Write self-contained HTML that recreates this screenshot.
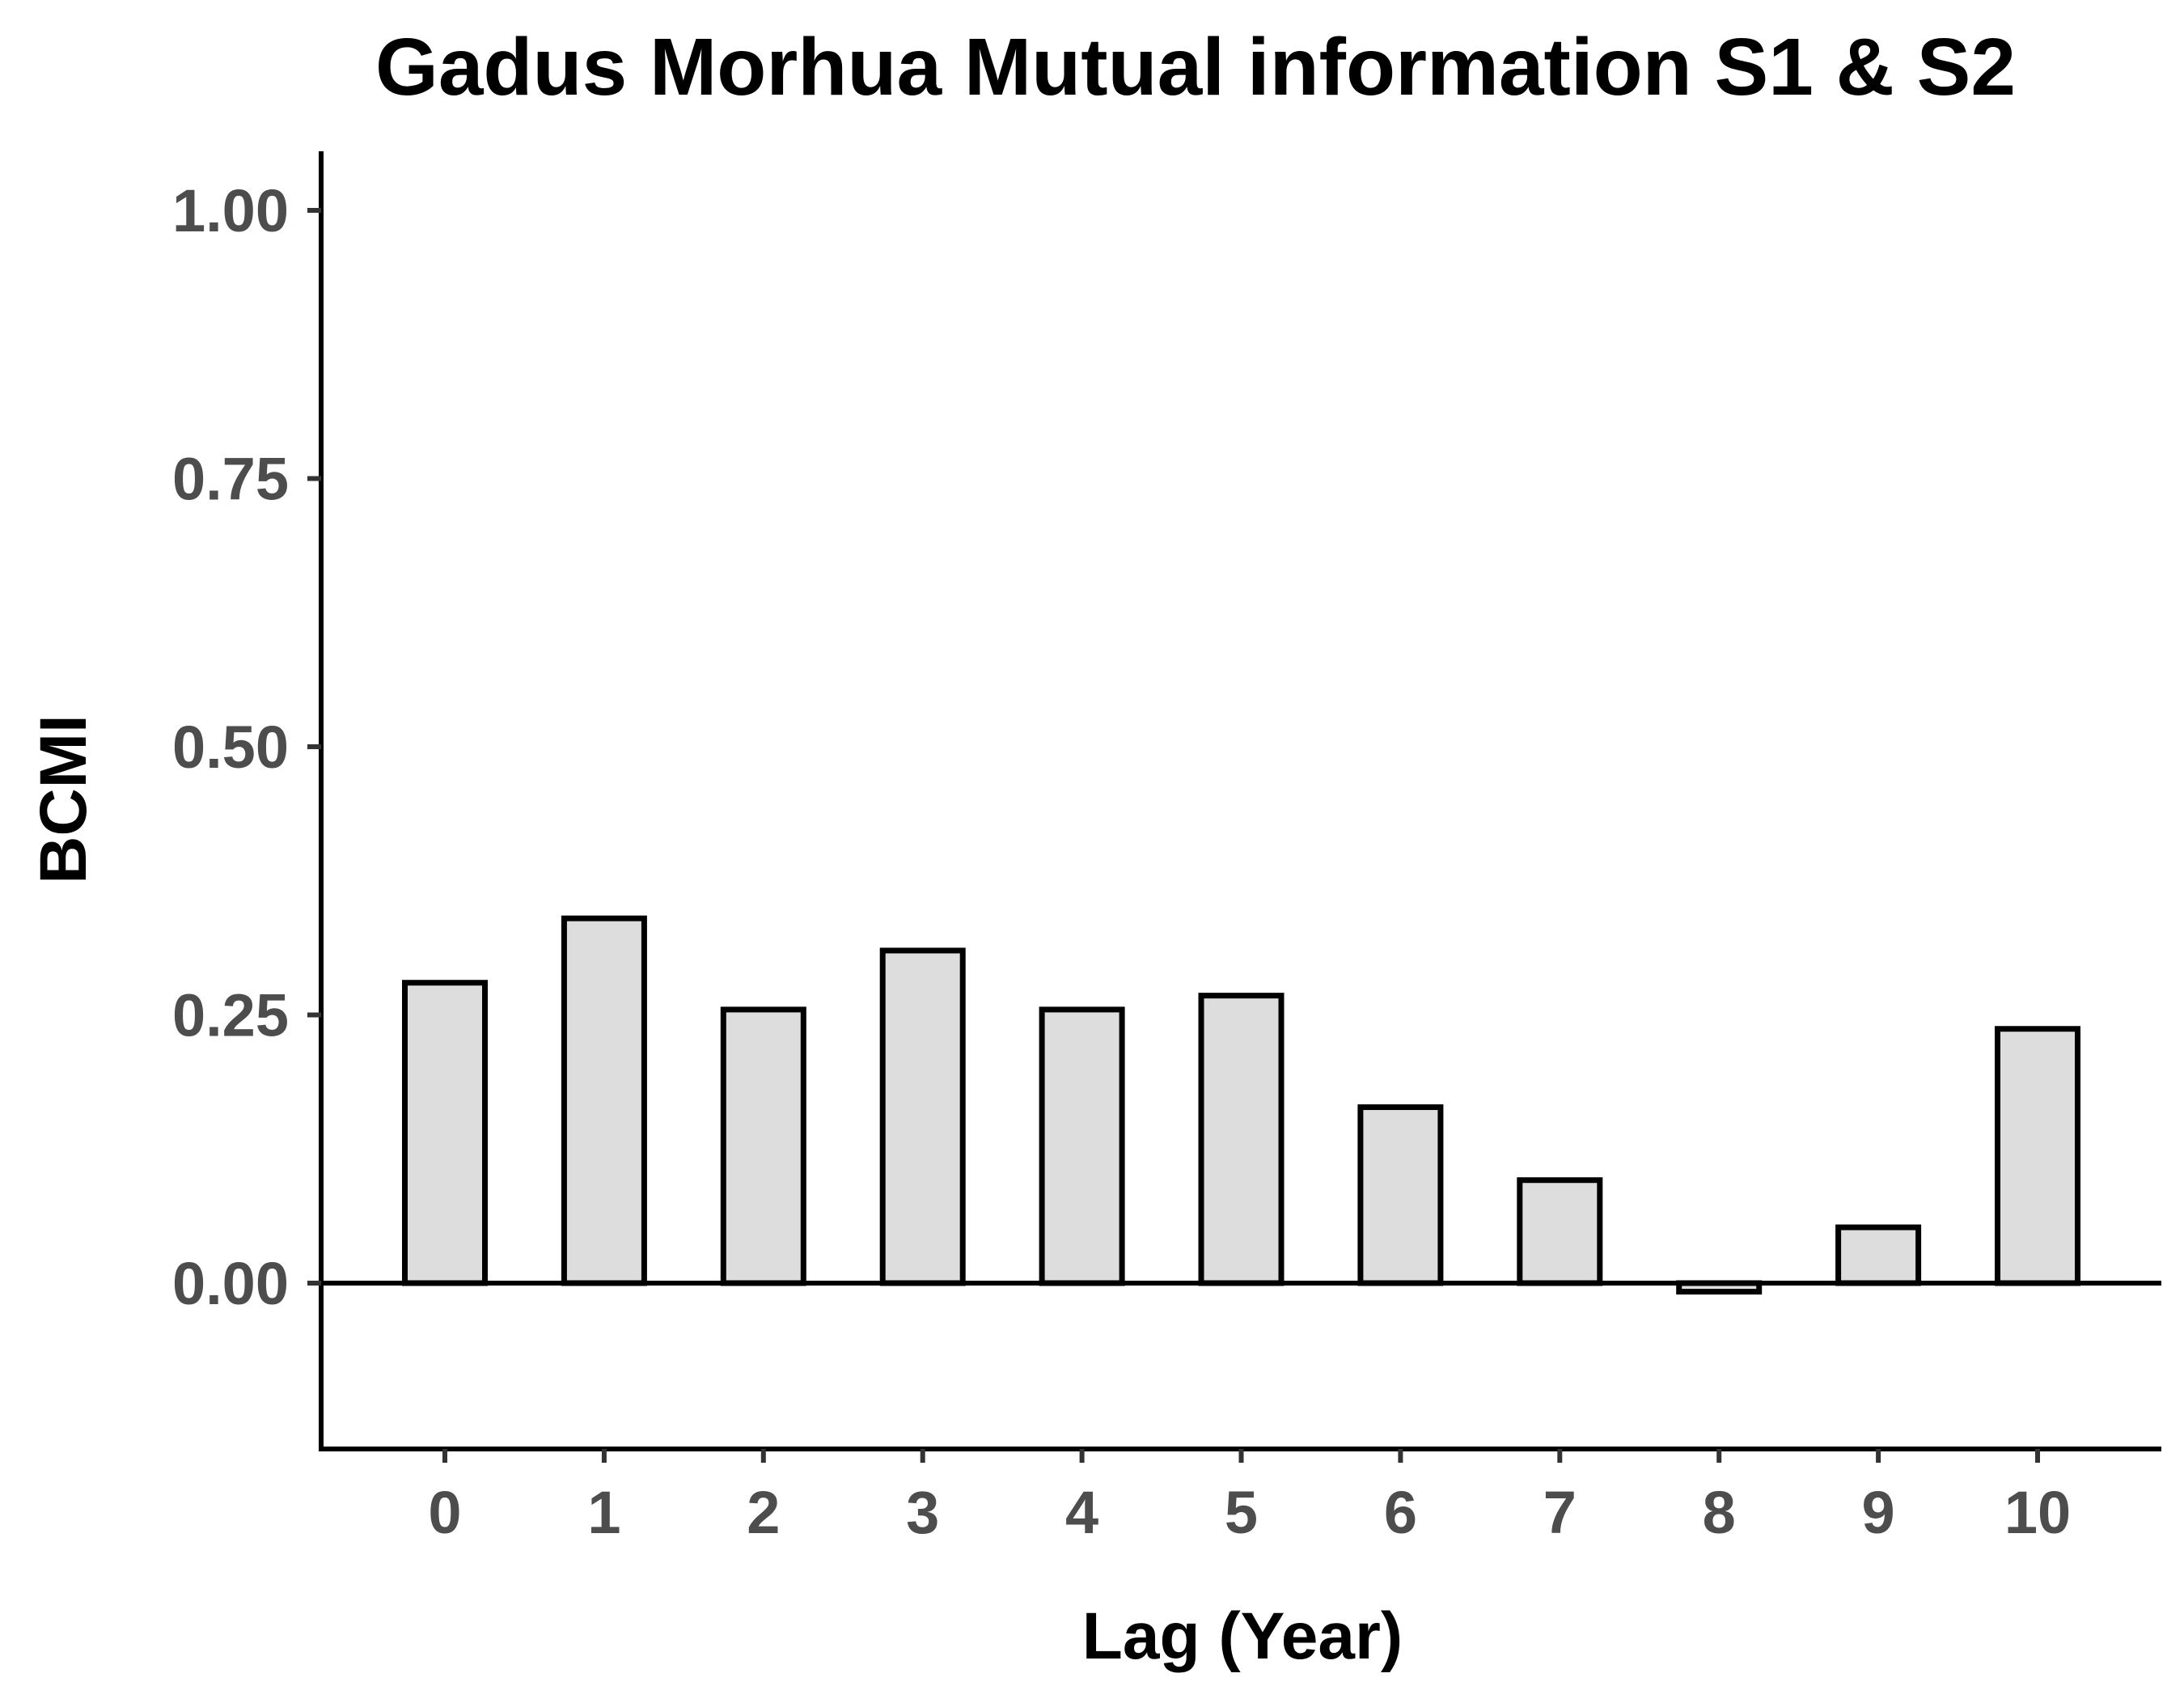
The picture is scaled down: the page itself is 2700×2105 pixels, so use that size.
<!DOCTYPE html>
<html><head><meta charset="utf-8"><style>
html,body{margin:0;padding:0;background:#fff;}
svg text{font-family:"Liberation Sans",Arial,sans-serif;font-weight:bold;}
</style></head><body>
<svg id="chart" width="2700" height="2100" viewBox="0 0 2700 2100" xmlns="http://www.w3.org/2000/svg">
<rect x="0" y="0" width="2700" height="2100" fill="#fff"/>
<text x="1478" y="117" font-size="100" text-anchor="middle" fill="#000">Gadus Morhua Mutual information S1 &amp; S2</text>
<text transform="translate(106,988) rotate(-90)" font-size="82" text-anchor="middle" fill="#000">BCMI</text>
<text x="1536" y="2050" font-size="82" text-anchor="middle" fill="#000">Lag (Year)</text>
<g id="plot"></g>
</svg>
<script>
const categories = ["0","1","2","3","4","5","6","7","8","9","10"];
const values = [0.280, 0.340, 0.255, 0.310, 0.255, 0.268, 0.164, 0.096, -0.008, 0.052, 0.237];
const yTicks = [0, 0.25, 0.5, 0.75, 1.0];
const yTickLabels = ["0.00","0.25","0.50","0.75","1.00"];

const NS = "http://www.w3.org/2000/svg";
const plotG = document.getElementById('plot');
const pLeft = 397, pRight = 2672, pTop = 187, pBottom = 1791;
const y0px = 1586, y1px = 260;
function yScale(v){ return y0px + (y1px - y0px) * v; }
const xFirst = 550, xStep = 196.9;
function xScale(i){ return xFirst + i * xStep; }
const barW = 99;
function mk(tag, attrs){ const e = document.createElementNS(NS, tag); for (const k in attrs) e.setAttribute(k, attrs[k]); plotG.appendChild(e); return e; }

values.forEach((v, i) => {
  const ya = yScale(Math.max(v, 0)), yb = yScale(Math.min(v, 0));
  const r = mk('rect', {x: xScale(i) - barW/2, y: ya, width: barW, height: Math.max(yb - ya, 1), fill: '#dddddd', stroke: '#000', 'stroke-width': 7});
  
  
});

const zl = mk('line', {x1: pLeft, x2: pRight, y1: yScale(0), y2: yScale(0), stroke: '#000', 'stroke-width': 6});



const yAxisLine = mk('line', {x1: pLeft, x2: pLeft, y1: pTop, y2: pBottom + 3, stroke: '#000', 'stroke-width': 6});


const xAxisLine = mk('line', {x1: pLeft - 3, x2: pRight, y1: pBottom, y2: pBottom, stroke: '#000', 'stroke-width': 6});



yTicks.forEach((t, i) => {
  const y = yScale(t);
  const tk = mk('line', {x1: pLeft - 17, x2: pLeft, y1: y, y2: y, stroke: '#333', 'stroke-width': 6});
  
  
  const tx = mk('text', {x: pLeft - 40, y: y + 26, 'font-size': 74, 'text-anchor': 'end', fill: '#4d4d4d'});
  tx.textContent = yTickLabels[i];
  
  
});

categories.forEach((c, i) => {
  const x = xScale(i);
  const tk = mk('line', {x1: x, x2: x, y1: pBottom, y2: pBottom + 17, stroke: '#333', 'stroke-width': 6});
  
  
  const tx = mk('text', {x: x, y: 1895, 'font-size': 74, 'text-anchor': 'middle', fill: '#4d4d4d'});
  tx.textContent = c;
  
  
});
</script>
</body></html>
